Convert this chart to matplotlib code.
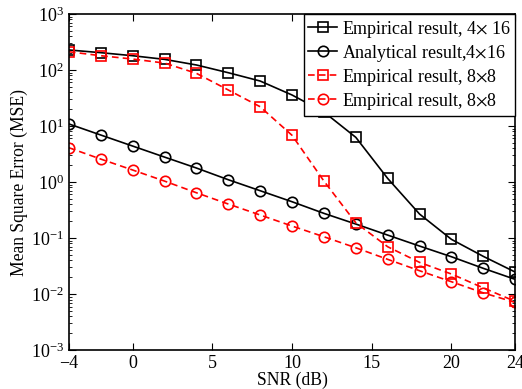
import numpy as np
import matplotlib
matplotlib.use("Agg")
import matplotlib.pyplot as plt

plt.rcParams['font.family'] = ['Liberation Serif', 'DejaVu Serif']
plt.rcParams['mathtext.fontset'] = 'stix'

snr = [-4, -2, 0, 2, 4, 6, 8, 10, 12, 14, 16, 18, 20, 22, 24]

emp_4x16 = [228, 204, 180, 155, 123, 89.5, 63.6, 35.8, 17.8, 6.28, 1.16,
            0.268, 0.0948, 0.0471, 0.0247]
ana_4x16 = [10.9, 6.91, 4.39, 2.79, 1.78, 1.10, 0.70, 0.445, 0.276, 0.178,
            0.113, 0.072, 0.0464, 0.0288, 0.0183]
emp_8x8 = [212, 180, 157, 133, 87.3, 44, 22.1, 6.82, 1.04, 0.1875, 0.070,
           0.0368, 0.0228, 0.0129, 0.0074]
ana_8x8 = [4.10, 2.57, 1.64, 1.04, 0.644, 0.405, 0.258, 0.164, 0.1055,
           0.0671, 0.0417, 0.0261, 0.0166, 0.0105, 0.0071]

labels = ['Empirical result, 4$\\times$ 16', 'Analytical result,4$\\times$16',
          'Empirical result, 8$\\times$8', 'Empirical result, 8$\\times$8']

fig = plt.figure(figsize=(5.22, 3.89), dpi=100)
ax = fig.add_axes([0.132, 0.100, 0.855, 0.864])

ms = 7.5
lw = 1.2
dash = (0, (4, 2.5))
ax.semilogy(snr, emp_4x16, 'k-s', mfc='none', ms=ms, lw=lw, mew=1.2, label=labels[0])
ax.semilogy(snr, ana_4x16, 'k-o', mfc='none', ms=ms, lw=lw, mew=1.2, label=labels[1])
ax.semilogy(snr, emp_8x8, 'rs', ls=dash, mfc='none', ms=ms, lw=lw, mew=1.2, label=labels[2])
ax.semilogy(snr, ana_8x8, 'ro', ls=dash, mfc='none', ms=ms, lw=lw, mew=1.2, label=labels[3])

ax.set_xlim(-4, 24)
ax.set_ylim(1e-3, 1e3)
ax.set_xticks([-4, 0, 5, 10, 15, 20, 24])
ax.set_yticks([1e-3, 1e-2, 1e-1, 1e0, 1e1, 1e2, 1e3])
ax.tick_params(which='both', direction='in', top=True, right=True, labelsize=13)
ax.tick_params(which='major', length=5)
ax.tick_params(which='minor', length=2.5)
for s in ax.spines.values():
    s.set_linewidth(1.2)

ax.set_xlabel('SNR (dB)', fontsize=12.7, labelpad=0)
ax.set_ylabel('Mean Square Error (MSE)', fontsize=12.7, labelpad=2)

leg = ax.legend(loc='upper right', fontsize=13, fancybox=False, edgecolor='k',
                framealpha=1, handlelength=1.6, handletextpad=0.25,
                borderpad=0.25, labelspacing=0.17, borderaxespad=0)
leg.get_frame().set_linewidth(1.0)

fig.savefig('out.png', dpi=100)
